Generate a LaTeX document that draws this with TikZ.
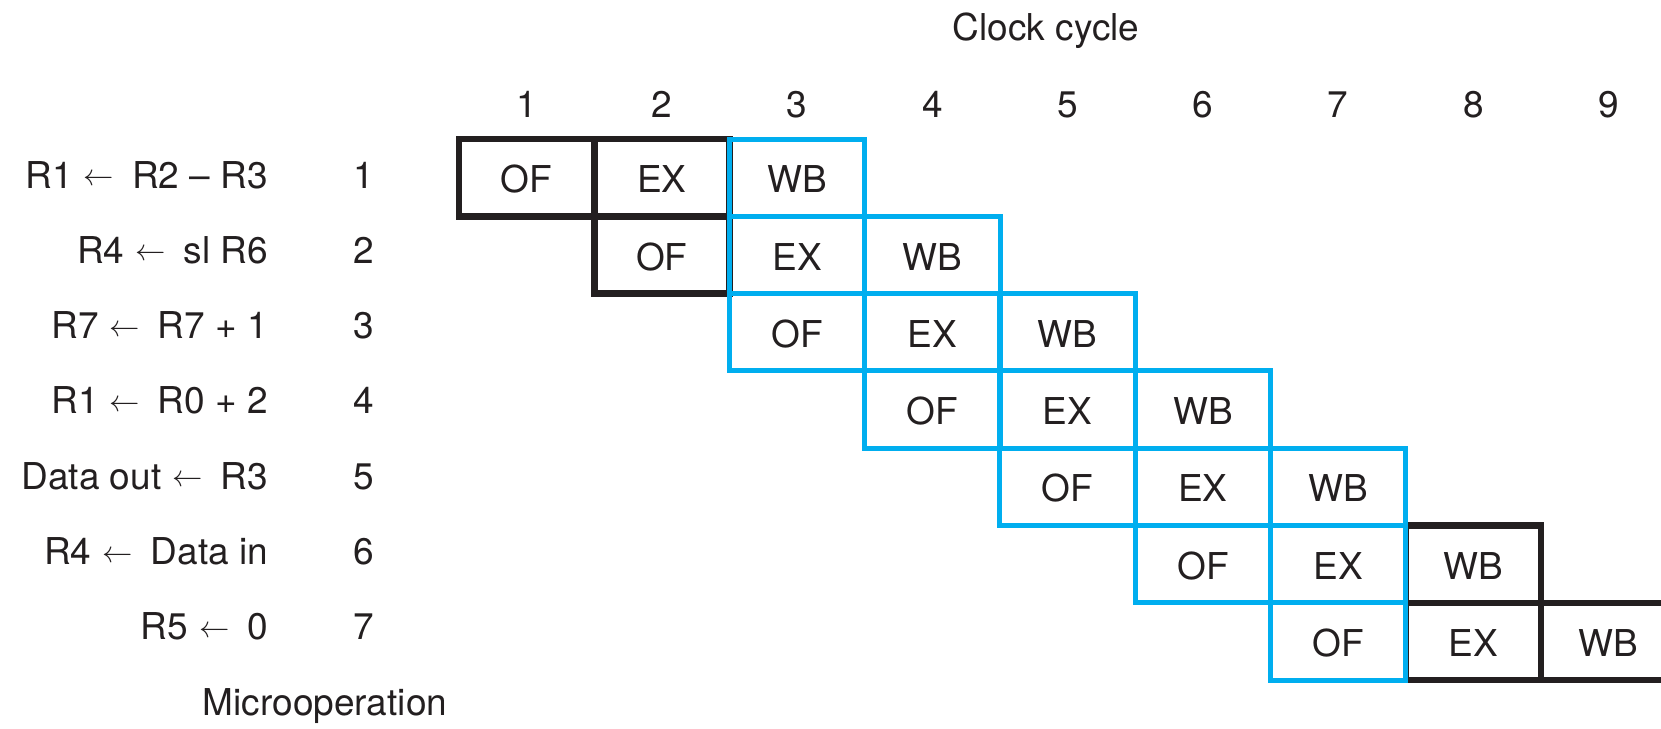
\documentclass[tikz,border=0pt]{standalone}
\usepackage{fontspec}
\usepackage{graphicx}
\setmainfont{TeX Gyre Heros}
\definecolor{ink}{HTML}{231F20}
\definecolor{cy}{HTML}{00AEEF}
\newcommand{\myarr}{\hspace{11pt}\raisebox{2.5pt}{\fontsize{24.88}{26}\selectfont\scalebox{1.22}{$\leftarrow$}}\hspace{18pt}}
\begin{document}
\begin{tikzpicture}[x=1pt,y=-1pt,
  font=\fontsize{37}{44}\selectfont, text=ink,
  cell/.style={rectangle, minimum width=135.25pt, minimum height=77.3pt,
    inner sep=0pt, outer sep=0pt, text height=30pt, text depth=0pt},
  cellk/.style={cell, draw=ink, line width=6.5pt},
  cellb/.style={cell, draw=cy, line width=5pt},
  txt/.style={inner sep=0pt, outer sep=0pt},
  lab/.style={txt, anchor=base east},
  num/.style={txt, anchor=base}]
\useasboundingbox (0,0) rectangle (1661,728);
\clip (0,0) rectangle (1661,728);
% titles
\node[num] (clock) at (1046,40) {Clock cycle};
\node[num] (micro) at (325,715) {Microoperation};
% column numbers
\node[num] (col1) at (526.6,117) {1};
\node[num] (col2) at (661.9,117) {2};
\node[num] (col3) at (797.1,117) {3};
\node[num] (col4) at (932.4,117) {4};
\node[num] (col5) at (1067.6,117) {5};
\node[num] (col6) at (1202.9,117) {6};
\node[num] (col7) at (1338.1,117) {7};
\node[num] (col8) at (1473.4,117) {8};
\node[num] (col9) at (1608.6,117) {9};
% row labels
\node[lab] (lab1) at (268,188) {R1\myarr R2 -- R3};
\node[lab] (lab2) at (268,263.3) {R4\myarr sl R6};
\node[lab] (lab3) at (268,338.6) {R7\myarr R7 + 1};
\node[lab] (lab4) at (268,413.9) {R1\myarr R0 + 2};
\node[lab] (lab5) at (268,489.2) {Data out\myarr R3};
\node[lab] (lab6) at (268,564.5) {R4\myarr Data in};
\node[lab] (lab7) at (268,639.8) {R5\myarr 0};
\node[num] (num1) at (364,188) {1};
\node[num] (num2) at (364,263.3) {2};
\node[num] (num3) at (364,338.6) {3};
\node[num] (num4) at (364,413.9) {4};
\node[num] (num5) at (364,489.2) {5};
\node[num] (num6) at (364,564.5) {6};
\node[num] (num7) at (364,639.8) {7};
% black cells
\node[cellk] (of1) at (526.6,177.7) {OF};
\node[cellk] (ex1) at (661.9,177.7) {EX};
\node[cellk] (of2) at (661.9,255.0) {OF};
\node[cellk] (wb6) at (1473.4,564.2) {WB};
\node[cellk] (ex7) at (1473.4,641.5) {EX};
\node[cellk] (wb7) at (1608.6,641.5) {WB};
% blue cells
\node[cellb] (wb1) at (797.1,177.7) {WB};
\node[cellb] (ex2) at (797.1,255.0) {EX};
\node[cellb] (wb2) at (932.4,255.0) {WB};
\node[cellb] (of3) at (797.1,332.3) {OF};
\node[cellb] (ex3) at (932.4,332.3) {EX};
\node[cellb] (wb3) at (1067.6,332.3) {WB};
\node[cellb] (of4) at (932.4,409.6) {OF};
\node[cellb] (ex4) at (1067.6,409.6) {EX};
\node[cellb] (wb4) at (1202.9,409.6) {WB};
\node[cellb] (of5) at (1067.6,486.9) {OF};
\node[cellb] (ex5) at (1202.9,486.9) {EX};
\node[cellb] (wb5) at (1338.1,486.9) {WB};
\node[cellb] (of6) at (1202.9,564.2) {OF};
\node[cellb] (ex6) at (1338.1,564.2) {EX};
\node[cellb] (of7) at (1338.1,641.5) {OF};
\end{tikzpicture}
\end{document}
